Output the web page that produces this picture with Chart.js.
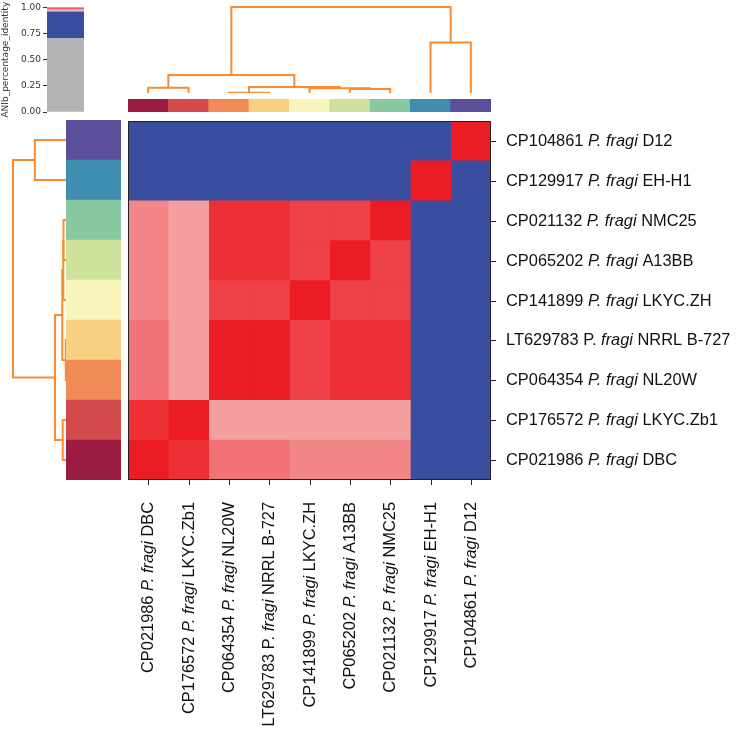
<!DOCTYPE html>
<html>
<head>
<meta charset="utf-8">
<script src="https://cdn.jsdelivr.net/npm/chart.js@4.4.1/dist/chart.umd.min.js"></script>
<style>
  body { margin: 0; background: #fff; }
  #wrap { position: relative; width: 736px; height: 729px; overflow: hidden; }
  canvas { position: absolute; }
</style>
</head>
<body>
<div id="wrap">
  <canvas id="cbar" width="90" height="120" style="left:0;top:0"></canvas>
  <canvas id="dendroTop" width="363" height="93" style="left:128px;top:0"></canvas>
  <canvas id="colColors" width="363" height="13" style="left:128px;top:99px"></canvas>
  <canvas id="dendroLeft" width="66" height="360" style="left:0;top:120px"></canvas>
  <canvas id="rowColors" width="55" height="360" style="left:66px;top:120px"></canvas>
  <canvas id="heat" width="608" height="608" style="left:128px;top:121px"></canvas>
</div>
<script>
// leaves in clustered order (left to right on the columns, bottom to top on the rows)
const leafLabels = [
  'CP021986 <i>P. fragi</i> DBC',
  'CP176572 <i>P. fragi</i> LKYC.Zb1',
  'CP064354 <i>P. fragi</i> NL20W',
  'LT629783 P. <i>fragi</i> NRRL B-727',
  'CP141899 <i>P. fragi</i> LKYC.ZH',
  'CP065202 <i>P. fragi</i> A13BB',
  'CP021132 <i>P. fragi</i> NMC25',
  'CP129917 <i>P. fragi</i> EH-H1',
  'CP104861 <i>P. fragi</i> D12'
];
const leafColors = ['#9b1c42', '#d34a4c', '#f08b57', '#f8d081', '#f7f5bb', '#cfe29c', '#87c8a1', '#3f8eb0', '#5b4f9c'];

// ANIb percentage identity, same leaf order for rows and columns
const ani = [
  [1.000, 0.997, 0.986, 0.986, 0.983, 0.983, 0.983, 0.880, 0.874],
  [0.997, 1.000, 0.979, 0.979, 0.979, 0.979, 0.979, 0.881, 0.875],
  [0.986, 0.979, 1.000, 1.000, 0.994, 0.997, 0.997, 0.882, 0.876],
  [0.986, 0.979, 1.000, 1.000, 0.994, 0.997, 0.997, 0.882, 0.876],
  [0.983, 0.979, 0.994, 0.994, 1.000, 0.994, 0.994, 0.881, 0.875],
  [0.983, 0.979, 0.997, 0.997, 0.994, 1.000, 0.994, 0.881, 0.875],
  [0.983, 0.979, 0.997, 0.997, 0.994, 0.994, 1.000, 0.881, 0.875],
  [0.880, 0.881, 0.882, 0.882, 0.881, 0.881, 0.881, 1.000, 0.878],
  [0.874, 0.875, 0.876, 0.876, 0.875, 0.875, 0.875, 0.878, 1.000]
];

// linkage: [left node, right node, height]; new nodes numbered from 9
const merges = [
  [2, 3, 0.004],
  [5, 6, 0.047],
  [4, 10, 0.054],
  [0, 1, 0.062],
  [9, 11, 0.070],
  [12, 13, 0.208],
  [7, 8, 0.588],
  [14, 15, 1.000]
];

// colour map of the identity scale
const cmapStops  = [0.00, 0.71, 0.71, 0.955, 0.965, 0.975, 1.00];
const cmapColors = ['#b4b4b4', '#b4b4b4', '#3a4d9f', '#3a4d9f', '#c8c4e2', '#f6b8b8', '#ec1c24'];
const cbarTicks  = [0, 0.25, 0.5, 0.75, 1.0];

const ORANGE = '#fb8b2d';
const TXT = '#111';
const LABEL_FONT = '16.4px "Liberation Sans", Arial, sans-serif';

function hexToRgb(h) {
  const n = parseInt(h.slice(1), 16);
  return [(n >> 16) & 255, (n >> 8) & 255, n & 255];
}

function cmap(v) {
  for (let i = 0; i < cmapStops.length - 1; i++) {
    const a = cmapStops[i], b = cmapStops[i + 1];
    if (b > a && v >= a && v <= b) {
      const t = (v - a) / (b - a);
      const c0 = hexToRgb(cmapColors[i]), c1 = hexToRgb(cmapColors[i + 1]);
      const c = c0.map((x, k) => Math.round(x + (c1[k] - x) * t));
      return `rgb(${c[0]},${c[1]},${c[2]})`;
    }
  }
  return v < cmapStops[0] ? cmapColors[0] : cmapColors[cmapColors.length - 1];
}

// scipy-like U shapes from the linkage
function dendroSegments(n, links) {
  const pos = [], hgt = [];
  for (let i = 0; i < n; i++) { pos.push(i + 0.5); hgt.push(0); }
  return links.map(([a, b, h]) => {
    const seg = [[pos[a], hgt[a]], [pos[a], h], [pos[b], h], [pos[b], hgt[b]]];
    pos.push((pos[a] + pos[b]) / 2);
    hgt.push(h);
    return seg;
  });
}

// draw 'abc <i>def</i> ghi' with mixed italic
function drawRich(ctx, markup, x, y, alignEnd) {
  const parts = markup.split(/(<i>|<\/i>)/);
  let italic = false;
  const segs = [];
  parts.forEach(p => {
    if (p === '<i>') italic = true;
    else if (p === '</i>') italic = false;
    else if (p) segs.push({ t: p, f: (italic ? 'italic ' : '') + LABEL_FONT });
  });
  let total = 0;
  segs.forEach(s => { ctx.font = s.f; s.w = ctx.measureText(s.t).width; total += s.w; });
  let cx = alignEnd ? x - total : x;
  ctx.textAlign = 'left';
  ctx.textBaseline = 'middle';
  segs.forEach(s => { ctx.font = s.f; ctx.fillText(s.t, cx, y); cx += s.w; });
}

const base = {
  responsive: false,
  animation: false,
  plugins: { legend: { display: false }, tooltip: { enabled: false } }
};

const n = leafLabels.length;
const rowOrder = leafLabels.map((_, i) => n - 1 - i);  // top row = last leaf
const segments = dendroSegments(n, merges);

// colour bar
new Chart(document.getElementById('cbar'), {
  type: 'bar',
  data: {
    labels: ['ANIb'],
    datasets: [{
      data: [[0, 1]],
      borderWidth: 0,
      barPercentage: 1,
      categoryPercentage: 1,
      backgroundColor: (c) => {
        const { chart } = c;
        const area = chart.chartArea;
        if (!area) return cmapColors[0];
        const y = chart.scales.y;
        const g = chart.ctx.createLinearGradient(0, y.getPixelForValue(0), 0, y.getPixelForValue(1));
        cmapStops.forEach((s, i) => g.addColorStop(s, cmapColors[i]));
        return g;
      }
    }]
  },
  options: {
    ...base,
    layout: { padding: { top: 6, bottom: 8, right: 6, left: 0 } },
    scales: {
      x: { display: false },
      y: {
        min: 0, max: 1,
        afterFit: (s) => { s.width = 47; },
        afterBuildTicks: (s) => { s.ticks = cbarTicks.map(v => ({ value: v })); },
        border: { display: false },
        grid: { drawOnChartArea: false, drawTicks: true, tickLength: 4, color: '#333' },
        ticks: {
          padding: 2, color: '#333',
          font: { family: 'DejaVu Sans', size: 9 },
          callback: v => Number(v).toFixed(2)
        },
        title: {
          display: true, text: 'ANIb_percentage_identity', color: '#333', padding: 0,
          font: { family: 'DejaVu Sans', size: 9 }
        }
      }
    }
  }
});

// column dendrogram
new Chart(document.getElementById('dendroTop'), {
  type: 'scatter',
  data: {
    datasets: segments.map(seg => ({
      data: seg.map(([p, h]) => ({ x: p, y: h })),
      showLine: true, pointRadius: 0, borderColor: ORANGE, borderWidth: 2, clip: false
    }))
  },
  options: {
    ...base,
    layout: { padding: { top: 7, bottom: 0, left: 0, right: 0 } },
    scales: {
      x: { type: 'linear', min: 0, max: n, display: false },
      y: { type: 'linear', min: 0, max: 1, display: false }
    }
  }
});

// column colour strip
new Chart(document.getElementById('colColors'), {
  type: 'bar',
  data: {
    labels: leafLabels,
    datasets: [{
      data: leafLabels.map(() => 1),
      backgroundColor: leafColors,
      borderWidth: 0, barPercentage: 1, categoryPercentage: 1
    }]
  },
  options: {
    ...base,
    scales: { x: { display: false }, y: { display: false, min: 0, max: 1 } }
  }
});

// row dendrogram
new Chart(document.getElementById('dendroLeft'), {
  type: 'scatter',
  data: {
    datasets: segments.map(seg => ({
      data: seg.map(([p, h]) => ({ x: h, y: p })),
      showLine: true, pointRadius: 0, borderColor: ORANGE, borderWidth: 2, clip: false
    }))
  },
  options: {
    ...base,
    layout: { padding: { top: 0, bottom: 0, left: 13, right: 0 } },
    scales: {
      x: { type: 'linear', min: 0, max: 1, reverse: true, display: false },
      y: { type: 'linear', min: 0, max: n, display: false }
    }
  }
});

// row colour strip
new Chart(document.getElementById('rowColors'), {
  type: 'bar',
  data: {
    labels: rowOrder.map(i => leafLabels[i]),
    datasets: [{
      data: rowOrder.map(() => 1),
      backgroundColor: rowOrder.map(i => leafColors[i]),
      borderWidth: 0, barPercentage: 1, categoryPercentage: 1
    }]
  },
  options: {
    ...base,
    indexAxis: 'y',
    scales: { x: { display: false, min: 0, max: 1 }, y: { display: false } }
  }
});

// heatmap labels, ticks and frame
const heatLabels = {
  id: 'heatLabels',
  afterDraw(chart) {
    const { ctx, chartArea: a, scales: { x, y } } = chart;
    ctx.save();
    ctx.strokeStyle = '#222';
    ctx.lineWidth = 1;
    ctx.strokeRect(a.left + 0.5, a.top + 0.5, a.width - 1, a.height - 1);
    ctx.fillStyle = TXT;
    rowOrder.forEach((leaf, r) => {
      const py = Math.round(y.getPixelForValue(r)) + 0.5;
      ctx.beginPath(); ctx.moveTo(a.right, py); ctx.lineTo(a.right + 5, py); ctx.stroke();
      drawRich(ctx, leafLabels[leaf], a.right + 15, py, false);
    });
    leafLabels.forEach((lab, c) => {
      const px = Math.round(x.getPixelForValue(c + 0.5)) + 0.5;
      ctx.beginPath(); ctx.moveTo(px, a.bottom); ctx.lineTo(px, a.bottom + 5); ctx.stroke();
      ctx.save();
      ctx.translate(px, a.bottom + 22);
      ctx.rotate(-Math.PI / 2);
      drawRich(ctx, lab, 0, 0, true);
      ctx.restore();
    });
    ctx.restore();
  }
};

new Chart(document.getElementById('heat'), {
  type: 'bar',
  data: {
    labels: rowOrder.map(i => leafLabels[i]),
    datasets: leafLabels.map((_, c) => ({
      data: rowOrder.map(() => 1),
      backgroundColor: rowOrder.map(r => cmap(ani[r][c])),
      borderWidth: 0, barPercentage: 1, categoryPercentage: 1
    }))
  },
  options: {
    ...base,
    indexAxis: 'y',
    layout: { padding: { top: 0, left: 0, right: 245, bottom: 249 } },
    scales: {
      x: { stacked: true, min: 0, max: n, display: false },
      y: { stacked: true, display: false }
    }
  },
  plugins: [heatLabels]
});
</script>
</body>
</html>
